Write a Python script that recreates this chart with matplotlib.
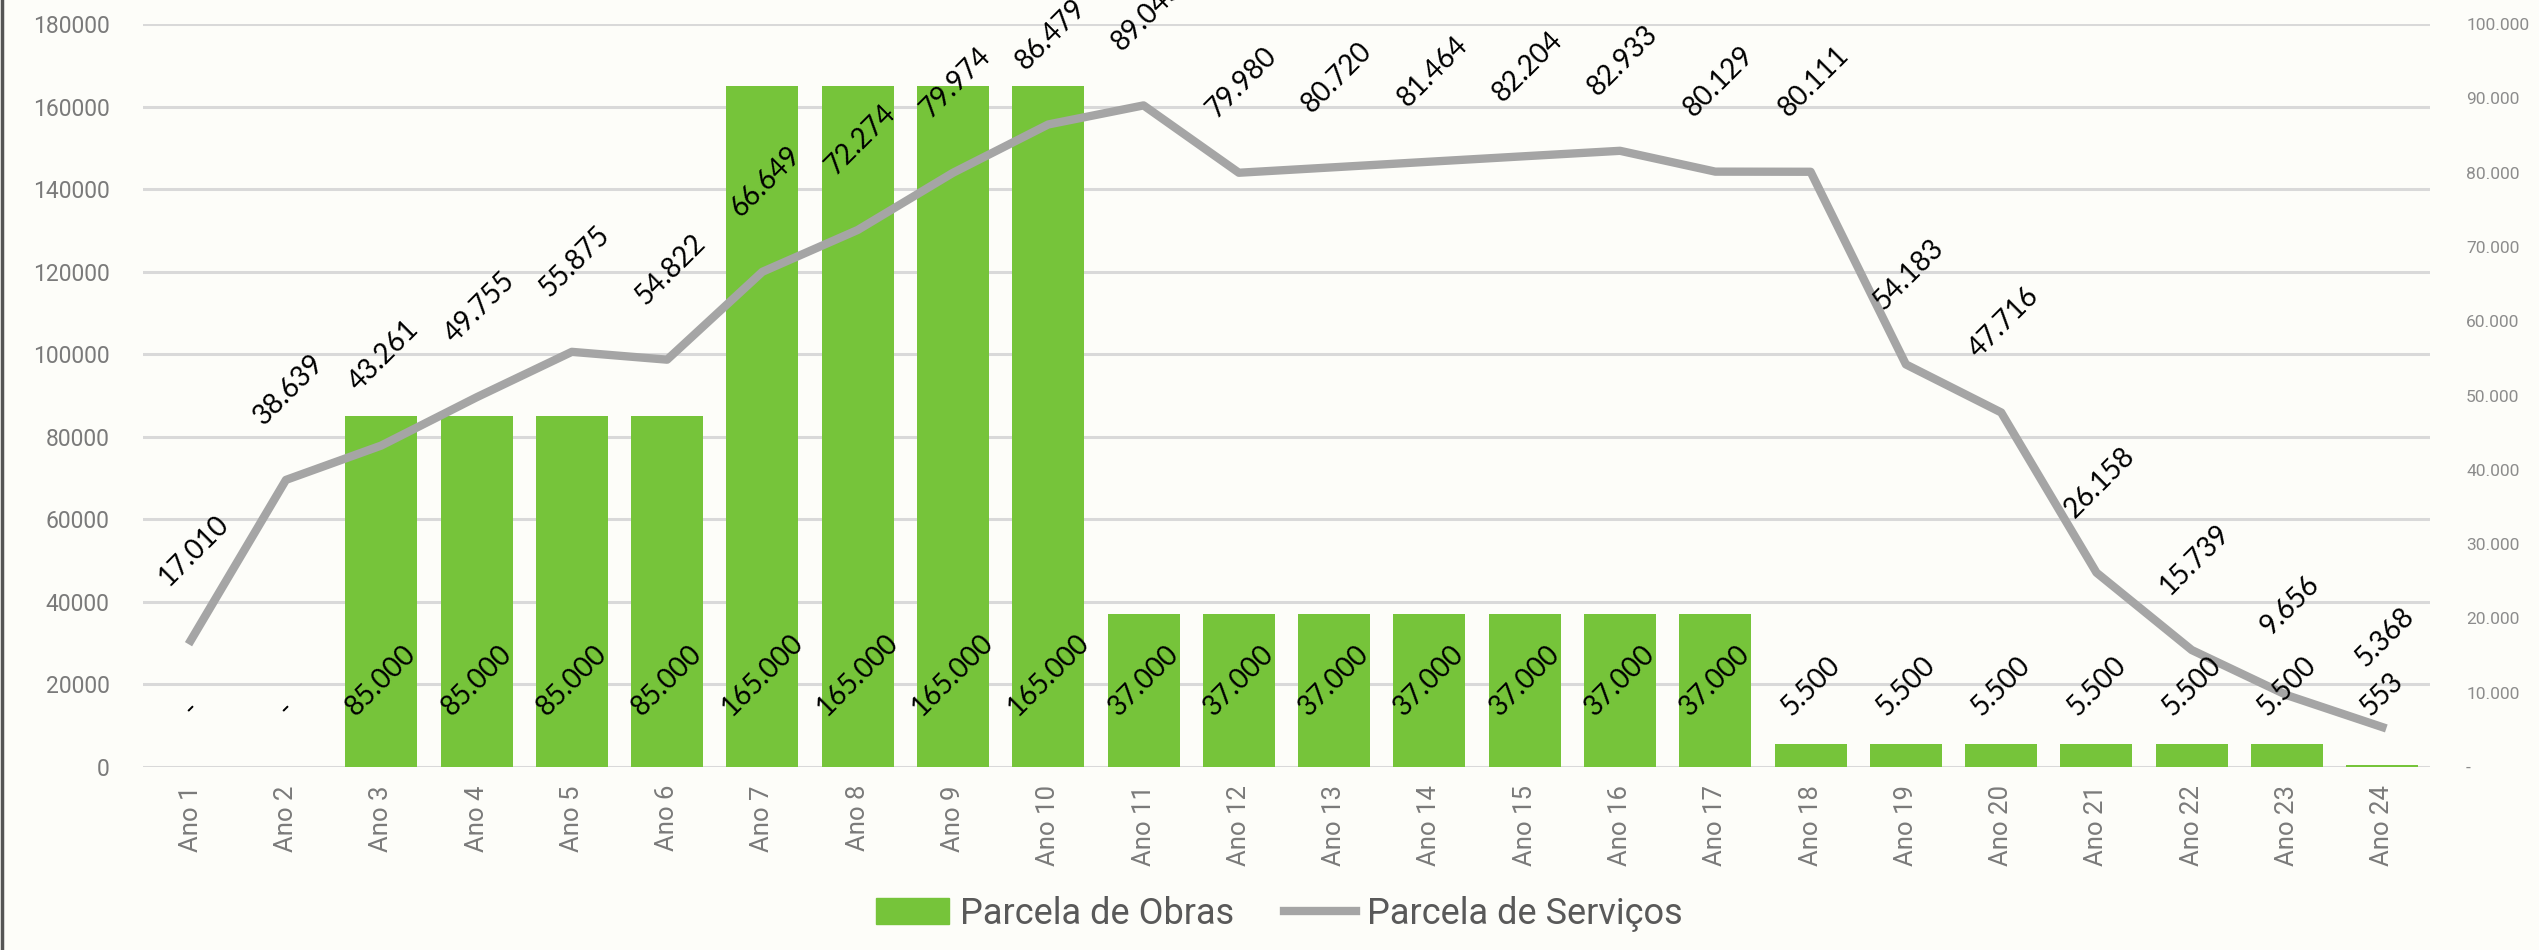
import matplotlib
matplotlib.use('Agg')
from matplotlib import pyplot as plt
from matplotlib.patches import Patch
from matplotlib.lines import Line2D

# data
anos = ['Ano {0}'.format(i) for i in range(1, 25)]
obras = [0, 0, 85000, 85000, 85000, 85000, 165000, 165000, 165000, 165000,
         37000, 37000, 37000, 37000, 37000, 37000, 37000,
         5500, 5500, 5500, 5500, 5500, 5500, 553]
servicos = [17010, 38639, 43261, 49755, 55875, 54822, 66649, 72274, 79974, 86479,
            89045, 79980, 80720, 81464, 82204, 82933, 80129, 80111,
            54183, 47716, 26158, 15739, 9656, 5368]

verde = '#76C43A'
cinza = '#A5A5A5'
bg = '#FDFDF9'

def fmt(v):
    # excel style: dot as thousands separator, dash for zero
    if v == 0:
        return '-'
    return '{0:,}'.format(v).replace(',', '.')

plt.rcParams['font.family'] = ['Roboto', 'DejaVu Sans']

fig = plt.figure(figsize=(25.39, 9.5), dpi=100, facecolor=bg)
W, H = 2539, 950
ax = fig.add_axes([143 / W, 1 - 767 / H, (2430 - 143) / W, (767 - 24) / H])
ax.set_facecolor(bg)
x = list(range(len(anos)))

ax.bar(x, obras, width=0.756, color=verde, zorder=2)
ax.set_xlim(-0.5, len(anos) - 0.5)
ax.set_ylim(0, 180000)
ax.set_yticks(range(0, 180001, 20000))
ax.yaxis.grid(True, color='#D9D9D9', linewidth=2.2)
ax.set_axisbelow(True)
ax.set_xticks(x)
ax.set_xticklabels(anos, rotation=90, fontsize=18.5, color='#7A7A7A')
ax.tick_params(axis='y', labelsize=16.5, colors='#7A7A7A', length=0, pad=24)
ax.tick_params(axis='x', length=0, pad=13)
for s in ax.spines.values():
    s.set_visible(False)

ax2 = ax.twinx()
ax2.plot(x, servicos, color=cinza, linewidth=6, zorder=3)
ax2.set_ylim(0, 100000)
ax2.set_yticks(range(0, 100001, 10000))
ax2.set_yticklabels([fmt(v) for v in range(0, 100001, 10000)])
ax2.tick_params(axis='y', labelsize=12.5, colors='#8C8C8C', length=0, pad=26)
for s in ax2.spines.values():
    s.set_visible(False)

# bar labels, near the base of each bar
for i, v in enumerate(obras):
    ax2.annotate(fmt(v), xy=(i, 0), xycoords=ax.transData,
                 xytext=(0, 46), textcoords='offset pixels',
                 ha='center', va='bottom', rotation=45,
                 fontsize=20, family=['Lato', 'DejaVu Sans'], color='black',
                 zorder=5, annotation_clip=False)

# line labels, above each point
for i, v in enumerate(servicos):
    ax2.annotate(fmt(v), xy=(i, v), xytext=(3, 90), textcoords='offset pixels',
                 ha='center', va='center', rotation=45,
                 fontsize=20, family=['Lato', 'DejaVu Sans'], color='black',
                 zorder=5, annotation_clip=False)

handles = [Patch(color=verde), Line2D([0], [0], color=cinza, linewidth=6)]
fig.legend(handles, ['Parcela de Obras', 'Parcela de Serviços'],
           loc='lower center', bbox_to_anchor=(0.504, -0.015), ncol=2,
           frameon=False, fontsize=26, labelcolor='#595959',
           handlelength=2.0, handletextpad=0.3, columnspacing=1.4)

# thin dark border on the left edge
fig.add_artist(Line2D([0.0008, 0.0008], [0, 1], color='#555555', linewidth=2.5))

fig.savefig('out.png', dpi=100, facecolor=bg)
